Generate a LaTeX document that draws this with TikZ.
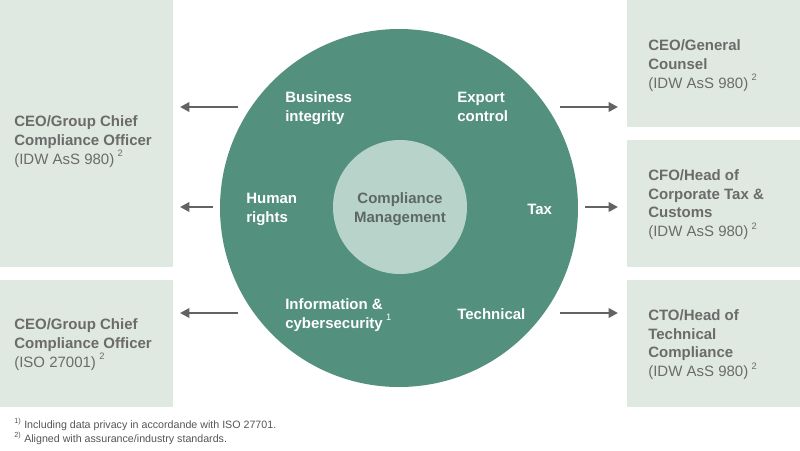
\documentclass[tikz,border=0pt]{standalone}
\usepackage{fontspec}
\setmainfont{Liberation Sans}
\usetikzlibrary{arrows.meta}
\definecolor{vbox}{HTML}{DFE9E1}
\definecolor{vring}{HTML}{53907E}
\definecolor{vcore}{HTML}{B8D3CA}
\definecolor{vtext}{HTML}{6B6B6B}
\definecolor{vcoretext}{HTML}{5E6863}
\definecolor{varrow}{HTML}{636363}
\definecolor{vnote}{HTML}{555555}
\newcommand{\fnmark}[1]{\hspace{2.5pt}\raisebox{0.5em}{\fontsize{7}{7}\selectfont\mdseries #1}}
\newcommand{\notemark}[1]{\makebox[7.5pt][l]{\raisebox{0.42em}{\fontsize{5.5}{5.5}\selectfont #1)}}}
\tikzset{
	box/.style = {fill = vbox, inner sep = 0pt, anchor = north west},
	role/.style = {anchor = base west, align = left, inner sep = 0pt, text = vtext, font = \fontsize{11.25}{13.9}\selectfont\bfseries},
	area/.style = {anchor = base west, align = left, inner sep = 0pt, text = white, font = \fontsize{11.25}{13.9}\selectfont\bfseries},
	note/.style = {anchor = base west, inner sep = 0pt, text = vnote, font = \fontsize{8}{10.5}\selectfont},
	link/.style = {draw = varrow, line width = 1.9pt, -{Triangle[length = 7pt, width = 7pt]}}
}

\begin{document}
\begin{tikzpicture}[x = 0.75pt, y = -0.75pt]
	\useasboundingbox (0,0) rectangle (800,450);
	% boxes-left
	\node[box, minimum width = 129.75pt, minimum height = 200.25pt] (lbox1) at (0,0) {};
	\node[box, minimum width = 129.75pt, minimum height = 95.25pt] (lbox2) at (0,280) {};
	% boxes-right
	\node[box, minimum width = 129.75pt, minimum height = 95.25pt] (rbox1) at (627,0) {};
	\node[box, minimum width = 129.75pt, minimum height = 95.25pt] (rbox2) at (627,140) {};
	\node[box, minimum width = 129.75pt, minimum height = 95.25pt] (rbox3) at (627,280) {};
	% roles (placed at the baseline of their last line)
	\node[role] (ccoidw) at (14,164) {CEO/Group Chief\\Compliance Officer\\{\mdseries (IDW AsS 980)\fnmark{2}}};
	\node[role] (ccoiso) at (14,367) {CEO/Group Chief\\Compliance Officer\\{\mdseries (ISO 27001)\fnmark{2}}};
	\node[role] (counsel) at (648,88) {CEO/General\\Counsel\\{\mdseries (IDW AsS 980)\fnmark{2}}};
	\node[role] (cfo) at (648,236.5) {CFO/Head of\\Corporate Tax \&\\Customs\\{\mdseries (IDW AsS 980)\fnmark{2}}};
	\node[role] (cto) at (648,376.5) {CTO/Head of\\Technical\\Compliance\\{\mdseries (IDW AsS 980)\fnmark{2}}};
	% circles
	\node[circle, fill = vring, inner sep = 0pt, minimum size = 268.5pt] (ring) at (399,208) {};
	\node[circle, fill = vcore, inner sep = 0pt, minimum size = 100.5pt] (core) at (400,207) {};
	\node[anchor = base, align = center, inner sep = 0pt, text = vcoretext, font = \fontsize{11.25}{13.9}\selectfont\bfseries] (corename) at (400,222.5) {Compliance\\Management};
	% areas
	\node[area] (business) at (285,121) {Business\\integrity};
	\node[area] (export) at (457,121) {Export\\control};
	\node[area] (human) at (246,222.5) {Human\\rights};
	\node[area] (tax) at (527,214) {Tax};
	\node[area] (infosec) at (285,328) {Information \&\\cybersecurity\fnmark{1}};
	\node[area] (technical) at (457,319) {Technical};
	% arrows
	\coordinate (l1s) at (238,107);
	\coordinate (l1e) at (180,107);
	\coordinate (l2s) at (213,207);
	\coordinate (l2e) at (180,207);
	\coordinate (l3s) at (238,313);
	\coordinate (l3e) at (180,313);
	\coordinate (r1s) at (560,107);
	\coordinate (r1e) at (618,107);
	\coordinate (r2s) at (585,207);
	\coordinate (r2e) at (618,207);
	\coordinate (r3s) at (560,313);
	\coordinate (r3e) at (618,313);
	\foreach \s/\e in {l1s/l1e, l2s/l2e, l3s/l3e, r1s/r1e, r2s/r2e, r3s/r3e}
		\draw[link] (\s) -- (\e);
	% notes
	\node[note] (note1) at (14,428.3) {\notemark{1}Including data privacy in accordande with ISO 27701.};
	\node[note] (note2) at (14,442) {\notemark{2}Aligned with assurance/industry standards.};
\end{tikzpicture}
\end{document}
